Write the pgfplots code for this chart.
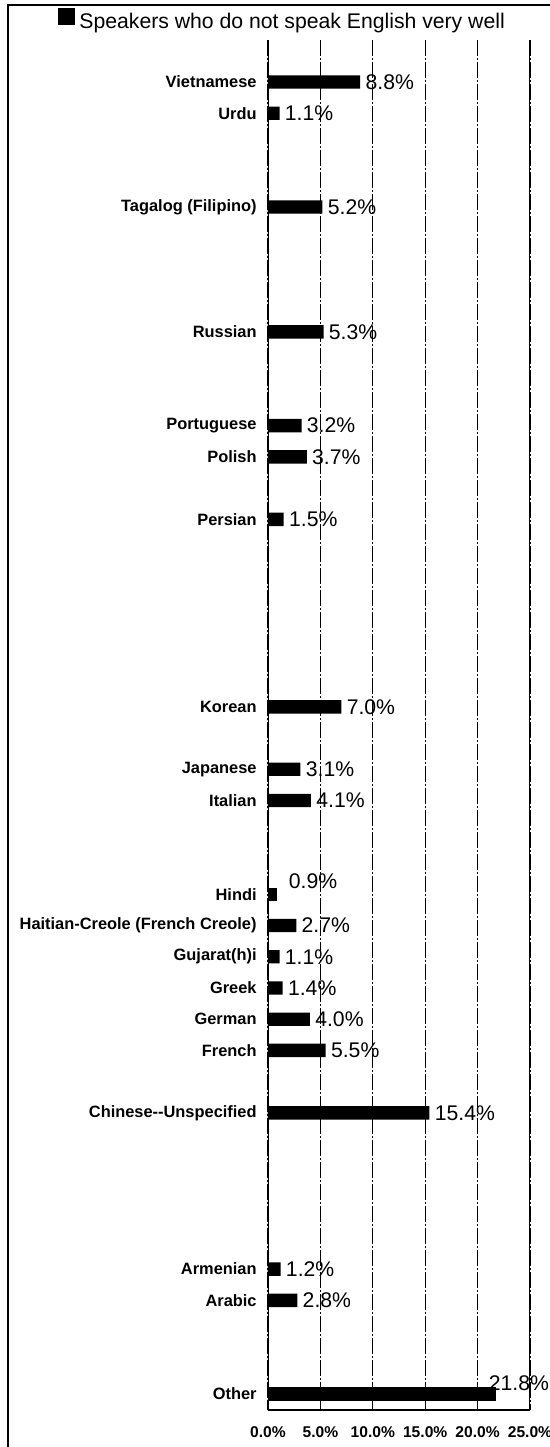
\documentclass[border=0pt]{standalone}
\usepackage{fontspec}
\setmainfont{Liberation Sans}
\usepackage{pgfplots}
\pgfplotsset{compat=1.18}
\usepackage{pgfplotstable}

\pgfplotstableread{
slot value
0 8.8
1 1.1
4 5.2
8 5.3
11 3.2
12 3.7
14 1.5
20 7.0
22 3.1
23 4.1
27 2.7
28 1.1
29 1.4
30 4.0
31 5.5
33 15.4
38 1.2
39 2.8
}\maindata
\pgfplotstableread{
slot value
26 0.9
}\hindidata
\pgfplotstableread{
slot value
42 21.8
}\otherdata

\begin{document}
\begin{tikzpicture}
\path[use as bounding box] (-134pt,-18.5pt) rectangle (141pt,705pt);
\begin{axis}[
  at={(0,0)}, anchor=south west,
  scale only axis, width=131pt, height=685pt,
  xmin=0, xmax=25, ymin=-1.344, ymax=42.51,
  y dir=reverse,
  xbar, bar width=6.7pt,
  axis line style={draw=none},
  xtick={0,5,10,15,20,25},
  xticklabels={0.0\%,5.0\%,10.0\%,15.0\%,20.0\%,25.0\%},
  xtick pos=bottom, tick align=inside, major tick length=4pt,
  xtick style={black, line width=0.5pt},
  xmajorgrids,
  major grid style={black, line width=0.6pt, dash pattern=on 8pt off 1pt on 1pt off 1pt},
  xticklabel style={font=\bfseries\fontsize{7.8}{9}\selectfont, inner sep=0pt, yshift=-8pt},
  ytick={0,1,4,8,11,12,14,20,22,23,26,27,28,29,30,31,33,38,39,42},
  yticklabels={Vietnamese,Urdu,Tagalog (Filipino),Russian,Portuguese,Polish,Persian,Korean,Japanese,Italian,Hindi,Haitian-Creole (French Creole),Gujarat(h)i,Greek,German,French,Chinese-{}-Unspecified,Armenian,Arabic,Other},
  ytick style={draw=none},
  yticklabel style={font=\bfseries\fontsize{8.2}{10}\selectfont, inner sep=0pt, xshift=-5.5pt},
  legend style={at={(-0.8015,1.0131)}, anchor=west, draw=none, fill=none, inner sep=0pt,
    font=\fontsize{10.6}{12}\selectfont},
  point meta=x,
  nodes near coords={\pgfmathprintnumber[fixed,fixed zerofill,precision=1,assume math mode=true]{\pgfplotspointmeta}\%},
  every node near coord/.append style={font=\fontsize{10.6}{12}\selectfont, inner sep=0pt, anchor=west, black},
]
\addplot[fill=black, draw=none, bar shift=0pt,
  legend image code/.code={\fill[black] (0pt,-1.5pt) rectangle (8.5pt,7pt);},
  every node near coord/.append style={xshift=2.5pt}]
  table[x=value, y=slot] {\maindata};
\addlegendentry{Speakers who do not speak English very well}
\addplot[fill=black, draw=none, bar shift=0pt, forget plot,
  every node near coord/.append style={xshift=5.5pt, yshift=6.5pt}]
  table[x=value, y=slot] {\hindidata};
\addplot[fill=black, draw=none, bar shift=0pt, forget plot,
  every node near coord/.append style={xshift=-4pt, yshift=5.5pt}]
  table[x=value, y=slot] {\otherdata};
\draw[black, line width=0.8pt] (axis description cs:0,1) -- (axis description cs:0,0) -- (axis description cs:1,0) -- (axis description cs:1,1);
\end{axis}
\draw[black, line width=0.8pt] (-130pt,-20pt) -- (-130pt,702.5pt) -- (145pt,702.5pt);
\end{tikzpicture}
\end{document}
